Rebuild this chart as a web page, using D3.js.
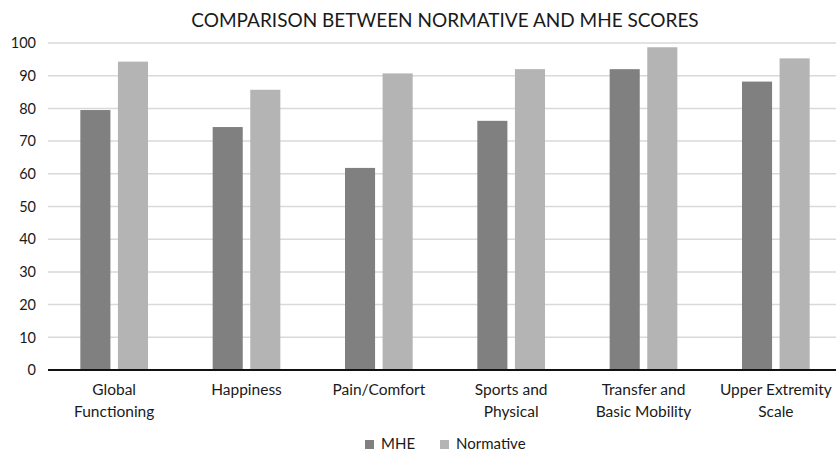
<!DOCTYPE html>
<html>
<head>
<meta charset="utf-8">
<script src="https://cdn.jsdelivr.net/npm/d3@7"></script>
<style>
  html, body { margin: 0; padding: 0; background: #fff; }
  svg { display: block; font-family: Lato, "Open Sans", sans-serif; }
</style>
</head>
<body>
<svg id="chart" width="836" height="452"></svg>
<script>
const categories = [
  ["Global", "Functioning"],
  ["Happiness"],
  ["Pain/Comfort"],
  ["Sports and", "Physical"],
  ["Transfer and", "Basic Mobility"],
  ["Upper Extremity", "Scale"]
];
const seriesNames = ["MHE", "Normative"];
const mheScores = [79.5, 74.3, 61.8, 76.2, 92.0, 88.2];
const normativeScores = [94.3, 85.7, 90.7, 92.0, 98.7, 95.3];
const yTicks = [0, 10, 20, 30, 40, 50, 60, 70, 80, 90, 100];
const chartTitle = "COMPARISON BETWEEN NORMATIVE AND MHE SCORES";

const colors = { MHE: "#808080", Normative: "#b4b4b4" };
const textColor = "#1a1a1a";

const svg = d3.select("#chart");
const plot = { left: 48, right: 842, top: 43, bottom: 370 };

const x = d3.scaleBand().domain(d3.range(categories.length)).range([plot.left, plot.right]);
const inner = d3.scaleBand().domain(seriesNames).range([0, x.bandwidth()]).paddingInner(0.2).paddingOuter(0.86);
const y = d3.scaleLinear().domain([0, 100]).range([plot.bottom, plot.top]);

// horizontal gridlines
svg.append("g")
  .selectAll("line")
  .data(yTicks.filter(d => d > 0))
  .join("line")
  .attr("x1", plot.left).attr("x2", plot.right)
  .attr("y1", d => y(d)).attr("y2", d => y(d))
  .attr("stroke", "#d9d9d9").attr("stroke-width", 1.5);

// y tick labels
svg.append("g")
  .selectAll("text")
  .data(yTicks)
  .join("text")
  .attr("x", 36).attr("y", d => y(d))
  .attr("dy", "0.36em")
  .attr("text-anchor", "end")
  .attr("font-size", 14.5)
  .attr("fill", textColor)
  .text(d => d);

// bars
const rows = categories.map((c, i) => ({ i, MHE: mheScores[i], Normative: normativeScores[i] }));
const groups = svg.append("g").selectAll("g")
  .data(rows)
  .join("g")
  .attr("transform", d => `translate(${x(d.i)},0)`);
groups.selectAll("rect")
  .data(d => seriesNames.map(k => ({ key: k, value: d[k] })))
  .join("rect")
  .attr("x", d => inner(d.key))
  .attr("width", inner.bandwidth())
  .attr("y", d => y(d.value))
  .attr("height", d => y(0) - y(d.value))
  .attr("fill", d => colors[d.key]);

// baseline
svg.append("line")
  .attr("x1", plot.left).attr("x2", plot.right)
  .attr("y1", y(0)).attr("y2", y(0))
  .attr("stroke", "#111").attr("stroke-width", 2);

// category labels
const labels = svg.append("g").selectAll("text")
  .data(categories)
  .join("text")
  .attr("x", (d, i) => x(i) + x.bandwidth() / 2)
  .attr("y", 395)
  .attr("text-anchor", "middle")
  .attr("font-size", 15.5)
  .attr("fill", textColor);
labels.selectAll("tspan")
  .data(d => d)
  .join("tspan")
  .attr("x", function () { return this.parentNode.getAttribute("x"); })
  .attr("dy", (d, j) => j === 0 ? 0 : 22)
  .text(d => d);

// title
svg.append("text")
  .attr("x", (plot.left + plot.right) / 2)
  .attr("y", 27)
  .attr("text-anchor", "middle")
  .attr("font-size", 19)
  .attr("fill", textColor)
  .text(chartTitle);

// legend
const legend = svg.append("g").attr("transform", "translate(0,444)");
const legendX = [365, 440];
seriesNames.forEach((name, k) => {
  legend.append("rect")
    .attr("x", legendX[k]).attr("y", -4)
    .attr("width", 9).attr("height", 9)
    .attr("fill", colors[name]);
  legend.append("text")
    .attr("x", legendX[k] + 16).attr("y", 0)
    .attr("dy", "0.36em")
    .attr("font-size", 15)
    .attr("fill", textColor)
    .text(name);
});
</script>
</body>
</html>
